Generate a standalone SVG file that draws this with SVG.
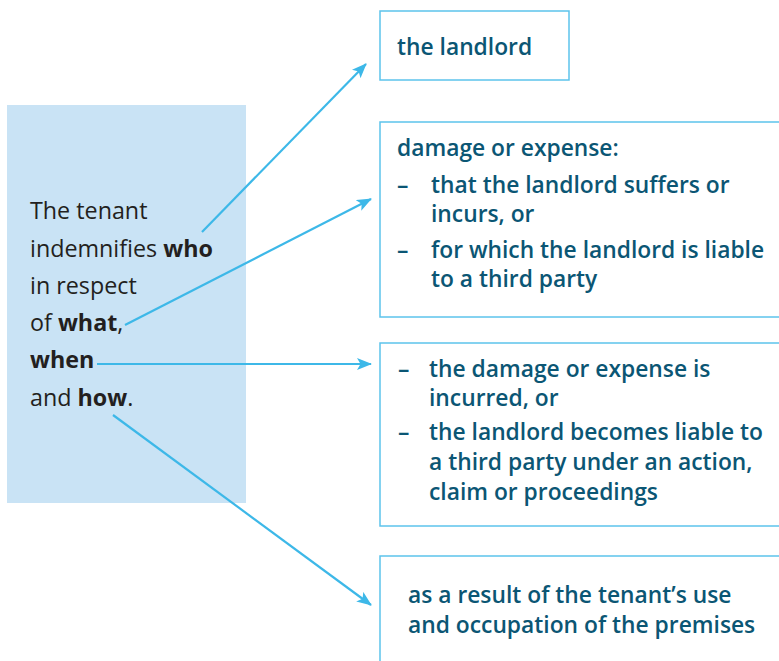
<svg xmlns="http://www.w3.org/2000/svg" width="779" height="661" viewBox="0 0 779 661">
<defs>
<style>
.bg{fill:#ffffff}
.main{fill:#c9e3f5;stroke:none}
.box{fill:#ffffff;stroke:#5cc3ec;stroke-width:1.5}
.lt{font-family:"Open Sans","Noto Sans",sans-serif;font-size:23.3px;fill:#231f20}
.lt .b{font-weight:700}
.bt{font-family:"Open Sans","Noto Sans",sans-serif;font-size:22.8px;font-weight:600;fill:#0b5674}
.conn{stroke:#3db8e8;stroke-width:2.2;fill:none}
</style>
<marker id="ah" viewBox="0 0 15 12" refX="14" refY="6" markerWidth="15" markerHeight="12" markerUnits="userSpaceOnUse" orient="auto">
<path d="M0,0 L15,6 L0,12 L3.5,6 Z" fill="#3db8e8"/>
</marker>
</defs>
<rect class="bg" x="0" y="0" width="779" height="661"/>
<g id="main-node">
<rect class="main" x="7" y="105" width="239" height="398"/>
<text class="lt" x="30" y="219">The tenant</text>
<text class="lt" x="30" y="257">indemnifies <tspan class="b">who</tspan></text>
<text class="lt" x="30" y="294">in respect</text>
<text class="lt" x="30" y="331">of <tspan class="b">what</tspan>,</text>
<text class="lt" x="30" y="368"><tspan class="b">when</tspan></text>
<text class="lt" x="30" y="406">and <tspan class="b">how</tspan>.</text>
</g>
<g id="node-who">
<rect class="box" x="380" y="11" width="189" height="69"/>
<text class="bt" x="397" y="55">the landlord</text>
</g>
<g id="node-what">
<rect class="box" x="380" y="122" width="410" height="195"/>
<text class="bt" x="397" y="156">damage or expense:</text>
<text class="bt" x="397" y="193">–</text>
<text class="bt" x="431" y="193">that the landlord suffers or</text>
<text class="bt" x="431" y="222">incurs, or</text>
<text class="bt" x="397" y="258">–</text>
<text class="bt" x="431" y="258">for which the landlord is liable</text>
<text class="bt" x="431" y="287">to a third party</text>
</g>
<g id="node-when">
<rect class="box" x="380" y="343" width="410" height="183"/>
<text class="bt" x="398" y="377">–</text>
<text class="bt" x="429" y="377">the damage or expense is</text>
<text class="bt" x="429" y="406">incurred, or</text>
<text class="bt" x="398" y="440">–</text>
<text class="bt" x="429" y="440">the landlord becomes liable to</text>
<text class="bt" x="429" y="470">a third party under an action,</text>
<text class="bt" x="429" y="500">claim or proceedings</text>
</g>
<g id="node-how">
<rect class="box" x="380" y="556" width="410" height="120"/>
<text class="bt" x="408" y="603">as a result of the tenant’s use</text>
<text class="bt" x="408" y="633">and occupation of the premises</text>
</g>
<g id="connectors">
<line class="conn" x1="202" y1="232" x2="366" y2="64" marker-end="url(#ah)"/>
<line class="conn" x1="125" y1="325" x2="371" y2="199" marker-end="url(#ah)"/>
<line class="conn" x1="97" y1="364" x2="371" y2="364" marker-end="url(#ah)"/>
<line class="conn" x1="113" y1="415" x2="371" y2="605" marker-end="url(#ah)"/>
</g>
</svg>
